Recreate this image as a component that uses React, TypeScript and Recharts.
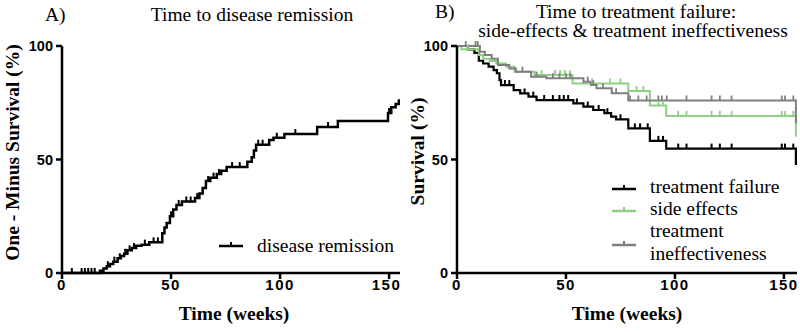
import { LineChart, Line, XAxis, YAxis, Legend } from "recharts";

const SERIF = "'Liberation Serif', 'Times New Roman', serif";
const SANS = "'Liberation Sans', Arial, sans-serif";

// A) one-minus-survival, time to remission: [week, %]
const remissionSteps = [
  [0, 0], [17.4, 1], [19, 2], [20.5, 3], [22, 4], [23.5, 5], [25.5, 6.5], [27, 7.5],
  [28.5, 8.5], [30, 10], [32, 11], [34, 12], [36.5, 12.5], [40, 13.5], [46, 17.5],
  [47, 20], [48, 22], [49.5, 25], [51, 28], [52.5, 30], [55, 31.5], [61, 33], [63, 35],
  [64.5, 37.5], [66, 40.5], [68, 42], [71, 43.6], [73, 45], [75.5, 46.7], [85, 49],
  [87, 51], [88, 54], [89, 56.5], [95, 58.6], [97, 59.6], [102, 61.2], [117, 64.3],
  [126.5, 67], [149.5, 70.5], [151, 73], [153, 74.5], [154.5, 76], [155, 76],
];
const remissionCensored = [
  [4.5, 0], [9, 0], [10.5, 0], [12, 0], [13.5, 0], [15, 0], [21, 3], [24, 5], [26.5, 6.5],
  [29, 8.5], [31, 10], [33, 11], [38, 12.5], [42, 13.5], [44, 13.5], [50, 25], [53.5, 30],
  [57, 31.5], [59, 31.5], [62, 33], [67, 40.5], [69.5, 42], [72, 43.6], [78, 46.7],
  [81.5, 46.7], [90, 56.5], [92, 56.5], [98.5, 59.6], [107, 61.2], [122, 64.3], [150, 70.5],
];

// B) survival, time to treatment failure
const failureSteps = [
  [0, 100], [5, 98.5], [8, 97], [10, 93.5], [12, 92.3], [14.5, 90.9], [16.8, 89.4],
  [18.3, 88], [19.5, 85], [20.2, 82.8], [26, 80.6], [29, 79.1], [32.8, 77.7], [36.5, 76.2],
  [53.4, 74.7], [58, 73.3], [62.5, 71.8], [67.6, 70.4], [70.7, 68.9], [73, 67.7],
  [78.6, 63.7], [88.5, 58.2], [96, 54.8], [155.5, 47.6],
];
const failureCensored = [
  [22, 82.8], [24, 82.8], [31, 79.1], [35, 77.7], [40, 76.2], [44, 76.2], [47, 76.2],
  [49, 76.2], [51, 76.2], [55, 74.7], [60, 73.3], [65, 71.8], [69, 70.4], [75, 67.7],
  [81.6, 63.7], [84, 63.7], [87.5, 63.7], [92.4, 58.2], [94.5, 58.2], [101.5, 54.8],
  [105.3, 54.8], [116.8, 54.8], [120.6, 54.8], [126, 54.8], [149, 54.8], [150.5, 54.8],
  [154.3, 54.8],
];
const sideEffectSteps = [
  [0, 100], [2, 98.6], [10, 96], [12, 94.4], [15, 93.4], [18, 92.3], [22.5, 90.9],
  [26.4, 88.7], [35.6, 87.2], [53, 83.5], [78.6, 80.2], [88.5, 73.8], [96, 69.2],
  [155.5, 60],
];
const sideEffectCensored = [
  [5, 98.6], [38.8, 87.2], [45, 87.2], [47.3, 87.2], [49.5, 87.2], [51.8, 87.2], [62, 83.5],
  [70.2, 83.5], [75, 83.5], [82.4, 80.2], [85.5, 80.2], [92.4, 73.8], [94.5, 73.8],
  [101.5, 69.2], [105.3, 69.2], [116.8, 69.2], [120.6, 69.2], [126, 69.2], [149, 69.2],
  [150.5, 69.2], [154.3, 69.2],
];
const ineffectiveSteps = [
  [0, 100], [10.5, 97.5], [12.8, 96], [15.9, 94.4], [18.8, 91.6], [24, 90.1], [27, 88.7],
  [34, 86.5], [41, 85.8], [58, 84.3], [61.5, 82.8], [64, 81.4], [71, 79.2], [78.6, 76],
  [155.5, 66],
];
const ineffectiveCensored = [
  [4, 100], [8.5, 100], [9.5, 100], [30, 88.7], [36.5, 86.5], [44, 85.8], [47, 85.8],
  [50, 85.8], [52, 85.8], [60, 84.3], [62.5, 82.8], [67, 81.4], [73, 79.2], [79.4, 76],
  [83.2, 76], [87, 76], [92.4, 76], [94, 76], [96.2, 76], [105.3, 76], [116.8, 76],
  [120.6, 76], [126, 76], [149, 76], [150.5, 76], [154.3, 76],
];

const weekTicks = [0, 50, 100, 150];
const percentTicks = [0, 50, 100];

const BLACK = "#000000";
const GREEN = "#8fcf84";
const GREY = "#7f7f7f";

type KmPoint = { t: number; v: number; censored?: boolean };

const km = (steps: number[][], censored: number[][]): KmPoint[] =>
  [
    ...steps.map(([t, v]) => ({ t, v })),
    ...censored.map(([t, v]) => ({ t, v, censored: true })),
  ].sort((a, b) => a.t - b.t);

// vertical tick on censored points, nothing elsewhere
const censorDot = (color: string, width: number) => (props: any) => {
  const { cx, cy, payload, index } = props;
  if (!payload?.censored) return <g key={`n${index}`} />;
  return (
    <line key={`c${index}`} x1={cx} x2={cx} y1={cy} y2={cy - 5} stroke={color} strokeWidth={width} />
  );
};

const AXIS_LINE = { stroke: "#000", strokeWidth: 2.5 };
const X_TICK = { fontSize: 15, fontWeight: 700, fill: "#000", fontFamily: SANS, letterSpacing: 1.5 };
const Y_TICK = { fontSize: 14.5, fontWeight: 700, fill: "#000", fontFamily: SANS };

type LegendItem = { lines: string[]; color: string };

function KmLegend({ items, symbolY }: { items: LegendItem[]; symbolY: number }) {
  return (
    <div style={{ fontFamily: SERIF, fontSize: 19.5, lineHeight: "22.4px", color: "#000" }}>
      {items.map((it) => (
        <div key={it.lines.join(" ")} style={{ display: "flex", alignItems: "center" }}>
          <svg width={38} height={22} style={{ flex: "none" }}>
            <line x1={0} x2={24} y1={symbolY} y2={symbolY} stroke={it.color} strokeWidth={2.5} />
            <line x1={12} x2={12} y1={symbolY} y2={symbolY - 4} stroke={it.color} strokeWidth={2} />
          </svg>
          <div>
            {it.lines.map((l) => (
              <div key={l} style={{ whiteSpace: "nowrap" }}>{l}</div>
            ))}
          </div>
        </div>
      ))}
    </div>
  );
}

const text = (style: React.CSSProperties): React.CSSProperties => ({
  position: "absolute",
  fontFamily: SERIF,
  fontSize: 19.5,
  lineHeight: "19px",
  whiteSpace: "nowrap",
  color: "#000",
  ...style,
});

const rotated = (cx: number, cy: number): React.CSSProperties =>
  text({
    left: cx - 150,
    top: cy - 9.5,
    width: 300,
    textAlign: "center",
    fontWeight: 700,
    transform: "rotate(-90deg)",
  });

export default function App() {
  const remission = km(remissionSteps, remissionCensored);
  const failure = km(failureSteps, failureCensored);
  const sideEffects = km(sideEffectSteps, sideEffectCensored);
  const ineffective = km(ineffectiveSteps, ineffectiveCensored);

  return (
    <div style={{ position: "absolute", left: 0, top: 0, width: 800, height: 332, background: "#fff" }}>
      {/* titles */}
      <div style={text({ left: 45, top: 5 })}>A)</div>
      <div style={text({ left: 102, top: 5, width: 300, textAlign: "center" })}>Time to disease remission</div>
      <div style={text({ left: 435, top: 2 })}>B)</div>
      <div style={text({ left: 486, top: 2, width: 300, textAlign: "center" })}>Time to treatment failure:</div>
      <div style={text({ left: 433, top: 21, width: 400, textAlign: "center" })}>
        side-effects &amp; treatment ineffectiveness
      </div>

      {/* panel A */}
      <div style={{ position: "absolute", left: 0, top: 0 }}>
        <LineChart width={400} height={332} margin={{ top: 46, right: 0, bottom: 0, left: 0 }}>
          <XAxis
            type="number"
            dataKey="t"
            domain={[0, 155]}
            ticks={weekTicks}
            allowDataOverflow
            height={59}
            axisLine={AXIS_LINE}
            tickLine={AXIS_LINE}
            tickSize={6}
            tickMargin={0}
            tick={X_TICK}
          />
          <YAxis
            type="number"
            domain={[0, 100]}
            ticks={percentTicks}
            width={62}
            axisLine={AXIS_LINE}
            tickLine={AXIS_LINE}
            tickSize={6}
            tickMargin={3}
            tick={Y_TICK}
          />
          <Legend
            layout="vertical"
            align="center"
            verticalAlign="middle"
            wrapperStyle={{ left: 219, top: 235, width: 180 }}
            content={() => (
              <KmLegend symbolY={11} items={[{ lines: ["disease remission"], color: BLACK }]} />
            )}
          />
          <Line
            data={remission}
            dataKey="v"
            type="stepAfter"
            stroke={BLACK}
            strokeWidth={2.5}
            dot={censorDot(BLACK, 2)}
            activeDot={false}
            isAnimationActive={false}
          />
        </LineChart>
      </div>

      {/* panel B */}
      <div style={{ position: "absolute", left: 400, top: 0 }}>
        <LineChart width={400} height={332} margin={{ top: 46, right: 3, bottom: 0, left: 0 }}>
          <XAxis
            type="number"
            dataKey="t"
            domain={[0, 156]}
            ticks={weekTicks}
            allowDataOverflow
            height={59}
            axisLine={AXIS_LINE}
            tickLine={AXIS_LINE}
            tickSize={6}
            tickMargin={0}
            tick={X_TICK}
          />
          <YAxis
            type="number"
            domain={[0, 100]}
            ticks={percentTicks}
            width={57}
            axisLine={AXIS_LINE}
            tickLine={AXIS_LINE}
            tickSize={6}
            tickMargin={3}
            tick={Y_TICK}
          />
          <Legend
            layout="vertical"
            align="center"
            verticalAlign="middle"
            wrapperStyle={{ left: 212, top: 175.5, width: 188 }}
            content={() => (
              <KmLegend
                symbolY={13}
                items={[
                  { lines: ["treatment failure"], color: BLACK },
                  { lines: ["side effects"], color: GREEN },
                  { lines: ["treatment", "ineffectiveness"], color: GREY },
                ]}
              />
            )}
          />
          <Line
            data={failure}
            dataKey="v"
            name="treatment failure"
            type="stepAfter"
            stroke={BLACK}
            strokeWidth={2.2}
            dot={censorDot(BLACK, 2)}
            activeDot={false}
            isAnimationActive={false}
          />
          <Line
            data={sideEffects}
            dataKey="v"
            name="side effects"
            type="stepAfter"
            stroke={GREEN}
            strokeWidth={2}
            dot={censorDot(GREEN, 1.8)}
            activeDot={false}
            isAnimationActive={false}
          />
          <Line
            data={ineffective}
            dataKey="v"
            name="treatment ineffectiveness"
            type="stepAfter"
            stroke={GREY}
            strokeWidth={2}
            dot={censorDot(GREY, 1.8)}
            activeDot={false}
            isAnimationActive={false}
          />
        </LineChart>
      </div>

      {/* axis titles */}
      <div style={rotated(12, 152)}>One - Minus Survival (%)</div>
      <div style={rotated(416.5, 151)}>Survival (%)</div>
      <div style={text({ left: 84, top: 304, width: 300, textAlign: "center", fontWeight: 700 })}>Time (weeks)</div>
      <div style={text({ left: 477, top: 304, width: 300, textAlign: "center", fontWeight: 700 })}>Time (weeks)</div>
    </div>
  );
}
